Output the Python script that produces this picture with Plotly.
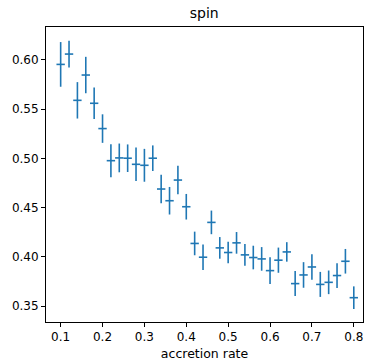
import plotly.graph_objects as go

accretion_rate = [0.10, 0.12, 0.14, 0.16, 0.18, 0.20, 0.22, 0.24, 0.26, 0.28, 0.30, 0.32,
                  0.34, 0.36, 0.38, 0.40, 0.42, 0.44, 0.46, 0.48, 0.50, 0.52, 0.54, 0.56,
                  0.58, 0.60, 0.62, 0.64, 0.66, 0.68, 0.70, 0.72, 0.74, 0.76, 0.78, 0.80]
spin = [0.5955, 0.606, 0.559, 0.5847, 0.556, 0.5303, 0.4977, 0.5005, 0.5002, 0.494, 0.493, 0.5002,
        0.4689, 0.457, 0.478, 0.4509, 0.4136, 0.3996, 0.435, 0.4091, 0.4044, 0.4142, 0.402, 0.3993,
        0.3979, 0.386, 0.3966, 0.405, 0.3728, 0.3816, 0.3897, 0.372, 0.3741, 0.381, 0.3955, 0.3585]
spin_err = [0.0227, 0.0136, 0.0185, 0.0185, 0.016, 0.0145, 0.0168, 0.0146, 0.014, 0.017, 0.0167, 0.013,
            0.0145, 0.014, 0.0145, 0.013, 0.012, 0.013, 0.012, 0.011, 0.011, 0.011, 0.011, 0.012,
            0.012, 0.0135, 0.0128, 0.0099, 0.0127, 0.013, 0.013, 0.0127, 0.012, 0.0126, 0.0125, 0.0115]
rate_err = 0.01

x_ticks = [0.1, 0.2, 0.3, 0.4, 0.5, 0.6, 0.7, 0.8]
y_ticks = [0.35, 0.40, 0.45, 0.50, 0.55, 0.60]

color = "#1f77b4"
fig = go.Figure()
fig.add_trace(go.Scatter(
    x=accretion_rate, y=spin, mode="markers",
    marker=dict(size=0.1, color=color, opacity=0),
    error_y=dict(type="data", array=spin_err, visible=True, color=color, thickness=1.6, width=0),
    error_x=dict(type="constant", value=rate_err, visible=True, color=color, thickness=1.6, width=0),
    showlegend=False,
))

font = dict(family="DejaVu Sans", color="black")
axis_common = dict(showgrid=False, zeroline=False, showline=True, linecolor="black", linewidth=1,
                   mirror=True, ticks="outside", ticklen=4, tickwidth=1, tickcolor="black",
                   automargin=False,
                   tickfont=dict(family="DejaVu Sans", size=12, color="black"))
fig.update_xaxes(range=[0.065, 0.822], tickvals=x_ticks, tickformat=".1f",
                 title=dict(text="accretion rate", font=dict(family="DejaVu Sans", size=12.5, color="black"), standoff=6),
                 **axis_common)
fig.update_yaxes(range=[0.3338, 0.6335], tickvals=y_ticks, tickformat=".2f", **axis_common)
fig.update_layout(
    width=367, height=361,
    margin=dict(l=46, r=4, t=27, b=39),
    paper_bgcolor="white", plot_bgcolor="white",
    font=font,
    title=dict(text="spin", x=0.5565, xanchor="center", y=1 - 13.5 / 361, yanchor="middle",
               font=dict(family="DejaVu Sans", size=14, color="black")),
)
fig.write_html("out.html")
